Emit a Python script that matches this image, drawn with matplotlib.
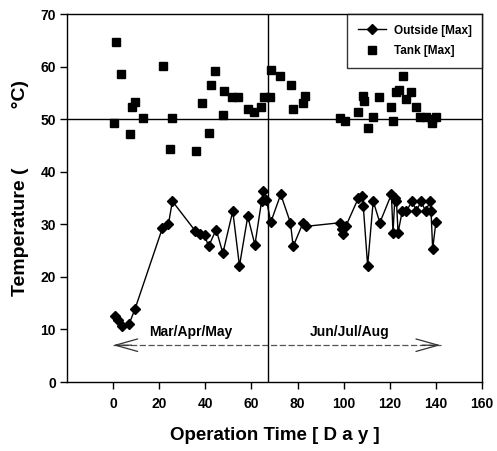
import matplotlib
matplotlib.use("Agg")
import matplotlib.pyplot as plt

# Outside air temperature, daily maximum
outside_day = [1, 2, 4, 7, 9.5, 21.4, 24, 25.7, 35.7, 37.6, 39.7, 41.4, 44.7, 47.6,
               51.9, 54.8, 58.4, 61.5, 64.4, 65.2, 66.5, 68.4, 72.7, 76.9, 78.1,
               82.4, 83.5, 98.5, 99.2, 99.6, 100.9, 106.4, 107.8, 108.5, 110.4,
               112.8, 115.7, 120.7, 121.4, 122.2, 122.9, 123.6, 125.4, 127.1,
               129.8, 131.5, 133.6, 135.5, 137.6, 137.9, 138.6, 140]
outside_max = [12.5, 11.8, 10.6, 11.1, 13.9, 29.3, 30.0, 34.4, 28.7, 28.2, 27.9,
               25.8, 29.0, 24.5, 32.5, 22.1, 31.5, 26.1, 34.4, 36.3, 34.6, 30.4,
               35.7, 30.3, 25.8, 30.3, 29.6, 30.3, 29.1, 28.2, 29.6, 35.0, 35.3,
               33.5, 22.1, 34.4, 30.3, 35.7, 28.4, 35.0, 34.4, 28.4, 32.5, 32.5,
               34.4, 32.5, 34.4, 32.5, 34.4, 32.5, 25.3, 30.4]

# Storage tank temperature, daily maximum
tank_day = [0.6, 1.3, 3.6, 7.4, 8.2, 9.6, 12.8, 21.6, 24.8, 25.5, 35.8, 38.6, 41.7,
            42.6, 44.4, 47.6, 48.3, 51.5, 54.2, 58.4, 61.2, 64.1, 65.5, 68.0, 68.5,
            72.6, 77.2, 78.1, 82.4, 83.4, 98.5, 100.6, 106.4, 108.5, 109.0, 110.7,
            112.8, 115.4, 120.7, 121.4, 122.6, 124.0, 125.7, 127.2, 129.3, 131.5,
            133.3, 135.8, 138.3, 138.3, 140.0]
tank_max = [49.2, 64.7, 58.6, 47.2, 52.4, 53.2, 50.3, 60.2, 44.4, 50.2, 44.0, 53.1,
            47.4, 56.5, 59.2, 50.8, 55.3, 54.3, 54.3, 52.0, 51.3, 52.4, 54.3, 54.3,
            59.4, 58.3, 56.4, 51.9, 53.0, 54.4, 50.2, 49.7, 51.3, 54.4, 53.5, 48.4,
            50.5, 54.3, 52.4, 49.7, 55.2, 55.6, 58.3, 53.8, 55.1, 52.4, 50.5, 50.5,
            50.0, 49.3, 50.5]

x_ticks = [0, 20, 40, 60, 80, 100, 120, 140, 160]
y_ticks = [0, 10, 20, 30, 40, 50, 60, 70]

season_split = 67        # day separating spring and summer
reference_temp = 50      # tank reference temperature
period_start, period_end = 0, 142
arrow_level = 7
season_labels = ["Mar/Apr/May", "Jun/Jul/Aug"]
season_label_x = [33.5, 102.5]

FONT = ["Liberation Sans", "DejaVu Sans"]
plt.rcParams["font.family"] = FONT
plt.rcParams["font.weight"] = "bold"

fig = plt.figure(figsize=(4.97, 4.51), dpi=100)
ax = fig.add_axes([67 / 497, 69 / 451, 415 / 497, 368 / 451])

ax.plot(outside_day, outside_max, color="black", lw=1.0, marker="D", ms=5,
        mfc="black", mec="black", label="Outside [Max]", zorder=4)
ax.plot(tank_day, tank_max, ls="none", marker="s", ms=5.8, mfc="black",
        mec="black", label="Tank [Max]", zorder=4)

ax.axvline(season_split, color="black", lw=1.0, zorder=2)
ax.axhline(reference_temp, color="black", lw=1.0, zorder=2)

# Season arrows
ax.plot([period_start, period_end], [arrow_level, arrow_level], color="#555555",
        lw=0.9, ls=(0, (5, 2)), zorder=1)
for tip, tail in [(period_start, period_start + 8), (period_end, period_end - 8)]:
    ax.annotate("", xy=(tip, arrow_level), xytext=(tail, arrow_level),
                arrowprops=dict(arrowstyle="->,head_length=1.6,head_width=0.45",
                                color="#333333", lw=0.9, shrinkA=0, shrinkB=0))

for label, xc in zip(season_labels, season_label_x):
    ax.text(xc, arrow_level + 1.2, label, ha="center", va="bottom",
            fontsize=10, fontweight="bold")

ax.set_xlim(-20, 160)
ax.set_ylim(0, 70)
ax.set_xticks(x_ticks)
ax.set_yticks(y_ticks)
ax.tick_params(direction="out", length=5, width=1, labelsize=10)
ax.tick_params(axis="x", pad=6)
ax.tick_params(axis="y", pad=3)
for lab in ax.get_xticklabels() + ax.get_yticklabels():
    lab.set_fontweight("bold")
for sp in ax.spines.values():
    sp.set_linewidth(1.0)

ax.set_xlabel("Operation Time [ D a y ]", fontsize=13.5, fontweight="bold", labelpad=11)
ax.set_ylabel("Temperature (           °C)", fontsize=14, fontweight="bold")
ax.yaxis.set_label_coords(-0.092, 0.527)

leg = ax.legend(loc="upper right", fontsize=8.5, frameon=True, fancybox=False,
                edgecolor="black", borderaxespad=0.0, handlelength=2.4,
                handletextpad=0.6, borderpad=0.9, labelspacing=0.7)
leg.get_frame().set_linewidth(1.0)
for t in leg.get_texts():
    t.set_fontweight("bold")

fig.savefig("out.png", dpi=100)
